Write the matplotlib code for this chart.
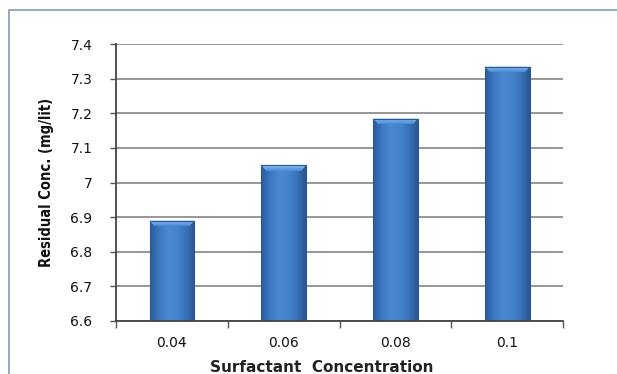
import numpy as np
import matplotlib
matplotlib.use('Agg')
import matplotlib.pyplot as plt
from matplotlib.colors import LinearSegmentedColormap
from matplotlib.patches import Polygon, Rectangle

# surfactant concentration vs residual concentration
categories = ['0.04', '0.06', '0.08', '0.1']
residual = [6.89, 7.05, 7.185, 7.335]
y_ticks = [6.6, 6.7, 6.8, 6.9, 7.0, 7.1, 7.2, 7.3, 7.4]
y_tick_labels = ['6.6', '6.7', '6.8', '6.9', '7', '7.1', '7.2', '7.3', '7.4']

ymin, ymax = 6.6, 7.4
bar_w = 0.4

fig = plt.figure(figsize=(6.17, 3.74), dpi=100)
# outer chart frame
fig.patches.append(Rectangle((9 / 617, -0.1), 1.2, 1 - 10 / 374 + 0.1,
                             transform=fig.transFigure, fill=False,
                             edgecolor='#7f9db9', linewidth=1.2))

ax = fig.add_axes([0.188, 0.142, 0.725, 0.740])

ax.set_yticks(y_ticks)
ax.set_yticklabels(y_tick_labels)
ax.yaxis.grid(True, color='#7a7a7a', linewidth=1.1)
ax.set_axisbelow(True)

# horizontal shading for the columns
bar_cmap = LinearSegmentedColormap.from_list(
    'colbar', ['#2c5a98', '#3d78c2', '#4a88d2', '#4484cf', '#3a72b9', '#2a5690'])
cap_cmap = LinearSegmentedColormap.from_list('cap', ['#4a88d2', '#8cc0f2'])
grad = np.linspace(0, 1, 64).reshape(1, -1)
vgrad = np.linspace(0, 1, 32).reshape(-1, 1)

x = np.arange(len(categories))
bars = ax.bar(x, [v - ymin for v in residual], bar_w, bottom=ymin,
              color='#3e7bc4', edgecolor='#2b5a95', linewidth=0.8, zorder=2)
for rect, v in zip(bars, residual):
    x0 = rect.get_x()
    x1 = x0 + rect.get_width()
    im = ax.imshow(grad, cmap=bar_cmap, aspect='auto',
                   extent=(x0, x1, ymin, v), zorder=2.5)
    im.set_clip_path(rect)
    # bevel on top of each column
    inset = 0.045
    cap = 0.017
    bevel = Polygon([(x0, v), (x1, v), (x1 - inset, v - cap), (x0 + inset, v - cap)],
                    closed=True, facecolor='none', edgecolor='none', zorder=3)
    ax.add_patch(bevel)
    cim = ax.imshow(vgrad, cmap=cap_cmap, aspect='auto', origin='lower',
                    extent=(x0, x1, v - cap, v), zorder=3)
    cim.set_clip_path(bevel)
    ax.plot([x0, x1], [v, v], color='#2b5a95', linewidth=0.8, zorder=3.5)

ax.set_xlim(-0.5, len(categories) - 0.5)
ax.set_ylim(ymin, ymax)

ax.set_xticks(x)
ax.set_xticklabels(categories)
ax.set_xticks(np.arange(-0.5, len(categories), 1), minor=True)
ax.tick_params(axis='x', which='major', length=0, pad=11)
ax.tick_params(axis='x', which='minor', length=5, width=1, color='#555555', direction='out')
ax.tick_params(axis='y', length=4, width=1, color='#555555', direction='out', pad=13)

for lbl in ax.get_xticklabels() + ax.get_yticklabels():
    lbl.set_fontfamily('DejaVu Sans')
    lbl.set_fontsize(10)
    lbl.set_color('#111111')

for side in ['top', 'right']:
    ax.spines[side].set_visible(False)
ax.spines['left'].set_color('#444444')
ax.spines['bottom'].set_color('#444444')
ax.spines['left'].set_linewidth(1.3)
ax.spines['bottom'].set_linewidth(1.3)

ax.set_xlabel('Surfactant  Concentration', fontsize=11, fontweight='bold',
              family='DejaVu Sans', color='#222222')
ax.xaxis.set_label_coords(0.46, -0.14)
ax.set_ylabel('Residual Conc. (mg/lit)', fontsize=10.5, fontweight='bold',
              fontstretch='condensed', family='DejaVu Sans', color='#111111', labelpad=12)

fig.savefig('out.png', dpi=100)
